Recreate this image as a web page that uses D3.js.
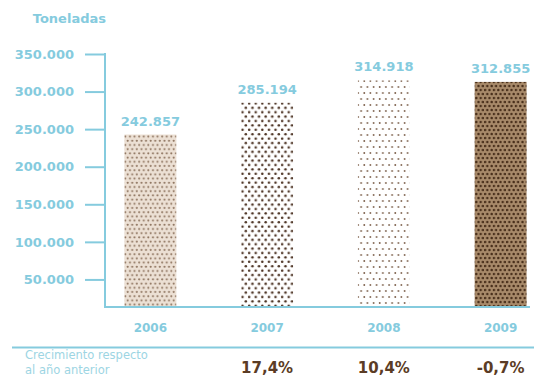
<!DOCTYPE html>
<html>
<head>
<meta charset="utf-8">
<script src="https://cdn.jsdelivr.net/npm/d3@7"></script>
<style>
  body { margin: 0; background: #fff; }
  svg { display: block; font-family: "DejaVu Sans", sans-serif; }
</style>
</head>
<body>
<svg id="chart"></svg>
<script>
/* data */
var years = ["2006", "2007", "2008", "2009"];
var toneladas = [242857, 285194, 314918, 312855];
var valueLabels = ["242.857", "285.194", "314.918", "312.855"];
var growthLabels = ["", "17,4%", "10,4%", "-0,7%"];
var tickValues = [50000, 100000, 150000, 200000, 250000, 300000, 350000];

var teal = "#85cbde";
var brown = "#5b3c25";

var svg = d3.select('#chart')
    .attr('width', 534)
    .attr('height', 376);

/* dot patterns, one per bar */
var defs = svg.append('defs');
var patterns = [
    { id: 'p0', w: 4.6, h: 4.2, r: 1.05, bg: '#ece0d4', dot: '#8f7560' },
    { id: 'p1', w: 6.6, h: 4.4, r: 1.25, bg: '#ffffff', dot: '#4a3020' },
    { id: 'p2', w: 6.2, h: 6.0, r: 0.9, bg: '#ffffff', dot: '#7a5e48' },
    { id: 'p3', w: 4.4, h: 4.0, r: 1.25, bg: '#a88a6a', dot: '#4a301c' }
];
patterns.forEach(function(p){
    var pat = defs.append('pattern')
        .attr('id', p.id)
        .attr('patternUnits', 'userSpaceOnUse')
        .attr('width', p.w)
        .attr('height', p.h * 2);
    pat.append('rect').attr('width', p.w).attr('height', p.h * 2).attr('fill', p.bg);
    pat.append('circle').attr('cx', p.w / 4).attr('cy', p.h / 2).attr('r', p.r).attr('fill', p.dot);
    pat.append('circle').attr('cx', p.w * 3 / 4).attr('cy', p.h * 1.5).attr('r', p.r).attr('fill', p.dot);
});

/* scales */
var x = d3.scaleBand()
    .domain(years)
    .range([92, 559])
    .paddingInner(0.555)
    .paddingOuter(0.2775);

var y = d3.scaleLinear()
    .domain([0, 350000])
    .range([317, 54]);

var axisX = 105;
var baseY = 307;

/* title */
svg.append('text')
    .attr('x', 106)
    .attr('y', 23)
    .attr('text-anchor', 'end')
    .attr('font-size', '13px')
    .attr('font-weight', 'bold')
    .attr('fill', teal)
    .text('Toneladas');

/* y axis */
var yAxis = d3.axisLeft(y)
    .tickValues(tickValues)
    .tickSize(20)
    .tickPadding(11)
    .tickFormat(function(d){ return d3.format(',')(d).replace(/,/g, '.'); });

var gy = svg.append('g')
    .attr('transform', 'translate(' + axisX + ',0)')
    .call(yAxis);
gy.select('.domain').remove();
gy.selectAll('.tick line').attr('stroke', teal).attr('stroke-width', 2);
gy.selectAll('.tick text')
    .attr('fill', teal)
    .attr('font-size', '13px')
    .attr('font-weight', 'bold')
    .attr('font-family', '"DejaVu Sans", sans-serif');

/* frame: vertical axis + baseline */
svg.append('line')
    .attr('x1', axisX).attr('x2', axisX)
    .attr('y1', y(350000) - 1).attr('y2', baseY)
    .attr('stroke', teal).attr('stroke-width', 2);
svg.append('line')
    .attr('x1', axisX - 1).attr('x2', 530)
    .attr('y1', baseY).attr('y2', baseY)
    .attr('stroke', teal).attr('stroke-width', 2);

/* bars */
svg.append('g')
    .selectAll('rect.bar')
    .data(toneladas)
    .enter()
    .append('rect')
    .attr('class', 'bar')
    .attr('x', (d, i) => x(years[i]))
    .attr('y', d => y(d))
    .attr('width', x.bandwidth())
    .attr('height', d => baseY - 1 - y(d))
    .attr('fill', (d, i) => 'url(#p' + i + ')');

/* value labels */
svg.append('g')
    .selectAll('text')
    .data(toneladas)
    .enter()
    .append('text')
    .attr('x', (d, i) => x(years[i]) + x.bandwidth() / 2)
    .attr('y', d => y(d) - 9)
    .attr('text-anchor', 'middle')
    .attr('font-size', '13px')
    .attr('font-weight', 'bold')
    .attr('fill', teal)
    .text((d, i) => valueLabels[i]);

/* year labels */
svg.append('g')
    .selectAll('text')
    .data(years)
    .enter()
    .append('text')
    .attr('x', d => x(d) + x.bandwidth() / 2)
    .attr('y', 332)
    .attr('text-anchor', 'middle')
    .attr('font-size', '12px')
    .attr('font-weight', 'bold')
    .attr('fill', teal)
    .text(d => d);

/* separator */
svg.append('line')
    .attr('x1', 12).attr('x2', 534)
    .attr('y1', 347.5).attr('y2', 347.5)
    .attr('stroke', teal).attr('stroke-width', 2);

/* growth row */
var note = svg.append('text')
    .attr('x', 25)
    .attr('font-size', '11.5px')
    .attr('fill', '#9dd5e3');
note.append('tspan').attr('x', 25).attr('y', 359).text('Crecimiento respecto');
note.append('tspan').attr('x', 25).attr('y', 374).text('al año anterior');

svg.append('g')
    .selectAll('text')
    .data(years)
    .enter()
    .append('text')
    .attr('x', d => x(d) + x.bandwidth() / 2)
    .attr('y', 373)
    .attr('text-anchor', 'middle')
    .attr('font-size', '15px')
    .attr('font-weight', 'bold')
    .attr('fill', brown)
    .text((d, i) => growthLabels[i]);
</script>
</body>
</html>
